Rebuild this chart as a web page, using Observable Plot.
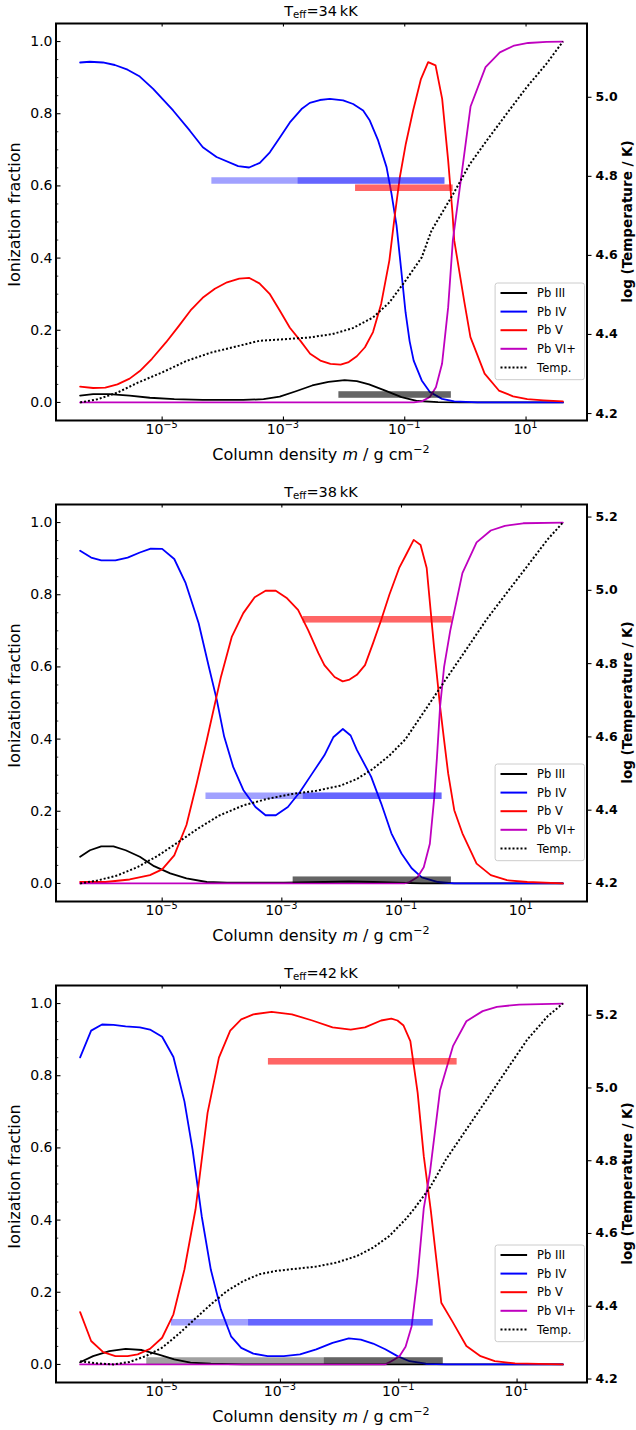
<!DOCTYPE html>
<html><head><meta charset="utf-8">
<script src="https://cdn.jsdelivr.net/npm/d3@7"></script>
<script src="https://cdn.jsdelivr.net/npm/@observablehq/plot@0.6"></script>
<style>
html,body{margin:0;padding:0;background:#fff;}
#root{position:relative;width:636px;height:1430px;overflow:hidden;}
.layer{position:absolute;left:0;width:636px;}
</style></head><body><div id="root"></div>
<script>
// ---------------- data (log10 column density, value) ----------------
const ionNames = ["Pb III", "Pb IV", "Pb V", "Pb VI+"];
const ionColors = ["#000000", "#0000ff", "#ff0000", "#bf00bf"];
const teffLabels = [34, 38, 42];
const xTickExps = [-5, -3, -1, 1];
const fracTicks = [0, 0.2, 0.4, 0.6, 0.8, 1.0];
const fracMinorTicks = [0.05,0.1,0.15,0.25,0.3,0.35,0.45,0.5,0.55,0.65,0.7,0.75,0.85,0.9,0.95];

// Teff = 34 kK
const p34_PbIII = [[-6.352,0.019],[-6.138,0.023],[-5.871,0.023],[-5.536,0.019],[-5.203,0.013],[-4.8,0.009],[-4.332,0.007],[-3.663,0.007],[-3.328,0.009],[-3.061,0.016],[-2.794,0.031],[-2.525,0.047],[-2.258,0.057],[-1.991,0.062],[-1.79,0.059],[-1.589,0.05],[-1.321,0.033],[-1.054,0.015],[-0.787,0.004],[-0.452,0.001],[-0.09,0],[1.607,0]];
const p34_PbIV = [[-6.352,0.942],[-6.192,0.944],[-5.978,0.942],[-5.78,0.935],[-5.57,0.922],[-5.368,0.903],[-5.148,0.869],[-4.819,0.809],[-4.543,0.753],[-4.329,0.707],[-4.103,0.68],[-3.747,0.655],[-3.566,0.651],[-3.389,0.664],[-3.224,0.693],[-3.059,0.734],[-2.894,0.776],[-2.702,0.813],[-2.565,0.83],[-2.4,0.838],[-2.235,0.841],[-2.016,0.837],[-1.851,0.827],[-1.686,0.809],[-1.576,0.781],[-1.439,0.726],[-1.3,0.652],[-1.218,0.578],[-1.135,0.49],[-1.06,0.37],[-0.987,0.25],[-0.92,0.17],[-0.853,0.116],[-0.72,0.061],[-0.586,0.029],[-0.385,0.01],[-0.184,0.003],[0.2,0],[1.607,0]];
const p34_PbV = [[-6.352,0.044],[-6.138,0.040],[-5.937,0.041],[-5.737,0.05],[-5.536,0.066],[-5.368,0.087],[-5.168,0.121],[-4.934,0.167],[-4.733,0.21],[-4.532,0.255],[-4.332,0.29],[-4.131,0.315],[-3.93,0.333],[-3.729,0.343],[-3.562,0.345],[-3.396,0.33],[-3.228,0.301],[-3.061,0.255],[-2.894,0.207],[-2.726,0.172],[-2.56,0.135],[-2.392,0.116],[-2.225,0.107],[-2.057,0.105],[-1.923,0.112],[-1.79,0.128],[-1.656,0.153],[-1.523,0.195],[-1.389,0.273],[-1.254,0.393],[-1.163,0.52],[-1.081,0.624],[-0.982,0.717],[-0.862,0.809],[-0.735,0.895],[-0.614,0.943],[-0.492,0.934],[-0.383,0.841],[-0.284,0.67],[-0.212,0.523],[-0.184,0.449],[-0.017,0.278],[0.083,0.181],[0.317,0.08],[0.552,0.033],[0.786,0.017],[1.02,0.009],[1.287,0.006],[1.607,0.003]];
const p34_PbVI = [[-6.352,0],[-0.85,0],[-0.72,0.003],[-0.586,0.015],[-0.486,0.042],[-0.385,0.107],[-0.284,0.264],[-0.207,0.449],[0.085,0.82],[0.332,0.929],[0.568,0.97],[0.804,0.989],[1.035,0.996],[1.338,0.999],[1.607,1.0]];
const p34_Temp = [[-6.352,4.228],[-6.07,4.236],[-5.737,4.253],[-5.402,4.278],[-5.0,4.304],[-4.599,4.333],[-4.197,4.354],[-3.796,4.369],[-3.396,4.384],[-2.993,4.388],[-2.593,4.392],[-2.19,4.401],[-1.857,4.416],[-1.523,4.443],[-1.254,4.481],[-0.987,4.536],[-0.72,4.595],[-0.558,4.663],[-0.202,4.755],[0.073,4.831],[0.349,4.89],[0.679,4.958],[1.008,5.025],[1.338,5.085],[1.607,5.141]];
const p34_bars = [["Pb IV",-4.18,-0.337,0.615],["Pb IV",-2.758,-0.337,0.615],["Pb V",-1.811,-0.202,0.595],["Pb V",-1.811,-0.202,0.595],["Pb III",-2.085,-0.232,0.022],["Pb III",-2.085,-0.232,0.022]];
const p34_tTicks = [4.2, 4.4, 4.6, 4.8, 5.0];

// Teff = 38 kK
const p38_PbIII = [[-6.371,0.074],[-6.207,0.092],[-6.018,0.103],[-5.814,0.103],[-5.61,0.092],[-5.373,0.074],[-5.135,0.048],[-4.865,0.028],[-4.594,0.014],[-4.255,0.004],[-3.915,0.002],[-2.966,0.002],[-2.289,0.004],[-1.881,0.006],[-1.475,0.004],[-1.067,0.002],[-0.661,0],[1.697,0]];
const p38_PbIV = [[-6.371,0.922],[-6.187,0.903],[-6.018,0.895],[-5.781,0.895],[-5.577,0.903],[-5.373,0.917],[-5.191,0.928],[-5.0,0.927],[-4.798,0.899],[-4.607,0.832],[-4.39,0.721],[-4.221,0.601],[-4.086,0.508],[-3.964,0.407],[-3.813,0.323],[-3.644,0.259],[-3.441,0.212],[-3.272,0.189],[-3.101,0.189],[-2.899,0.212],[-2.695,0.254],[-2.491,0.305],[-2.289,0.355],[-2.14,0.405],[-1.98,0.428],[-1.85,0.41],[-1.746,0.37],[-1.508,0.296],[-1.34,0.222],[-1.169,0.139],[-1.0,0.083],[-0.83,0.042],[-0.661,0.017],[-0.39,0.004],[-0.118,0],[1.697,0]];
const p38_PbV = [[-6.371,0.004],[-5.949,0.004],[-5.543,0.011],[-5.204,0.023],[-5.0,0.039],[-4.798,0.078],[-4.594,0.162],[-4.423,0.277],[-4.255,0.397],[-4.017,0.573],[-3.835,0.684],[-3.644,0.749],[-3.454,0.793],[-3.272,0.811],[-3.101,0.811],[-2.912,0.79],[-2.729,0.758],[-2.56,0.702],[-2.389,0.638],[-2.289,0.605],[-2.118,0.572],[-1.983,0.56],[-1.868,0.565],[-1.746,0.578],[-1.61,0.605],[-1.475,0.666],[-1.34,0.73],[-1.203,0.8],[-1.034,0.876],[-0.932,0.908],[-0.796,0.952],[-0.681,0.938],[-0.579,0.874],[-0.457,0.656],[-0.355,0.49],[-0.288,0.397],[-0.22,0.305],[-0.118,0.203],[0.018,0.139],[0.255,0.055],[0.492,0.023],[0.763,0.009],[1.102,0.004],[1.697,0]];
const p38_PbVI = [[-6.371,0],[-0.95,0],[-0.865,0.004],[-0.73,0.018],[-0.628,0.045],[-0.526,0.11],[-0.457,0.23],[-0.407,0.35],[-0.355,0.49],[-0.288,0.6],[-0.186,0.7],[0.018,0.86],[0.255,0.945],[0.492,0.978],[0.728,0.991],[1.034,0.998],[1.697,1.0]];
const p38_Temp = [[-6.371,4.2],[-6.085,4.208],[-5.747,4.222],[-5.408,4.245],[-5.069,4.276],[-4.729,4.313],[-4.39,4.351],[-4.051,4.385],[-3.644,4.413],[-3.238,4.431],[-2.831,4.444],[-2.424,4.453],[-2.017,4.467],[-1.746,4.485],[-1.475,4.513],[-1.203,4.549],[-0.932,4.594],[-0.593,4.676],[-0.255,4.758],[0.084,4.839],[0.424,4.921],[0.763,4.994],[1.102,5.066],[1.442,5.139],[1.697,5.185]];
const p38_bars = [["Pb V",-2.642,-0.153,0.732],["Pb V",-2.642,-0.153,0.732],["Pb IV",-4.268,-0.322,0.243],["Pb IV",-2.642,-0.322,0.243],["Pb III",-2.81,-0.166,0.01],["Pb III",-2.81,-0.166,0.01]];
const p38_tTicks = [4.2, 4.4, 4.6, 4.8, 5.0, 5.2];

// Teff = 42 kK
const p42_PbIII = [[-6.386,0.006],[-6.167,0.023],[-5.893,0.037],[-5.617,0.043],[-5.343,0.04],[-5.069,0.028],[-4.795,0.014],[-4.52,0.005],[-4.177,0.002],[-3.629,0],[1.774,0]];
const p42_PbIV = [[-6.386,0.851],[-6.2,0.925],[-6.016,0.942],[-5.823,0.941],[-5.617,0.937],[-5.377,0.934],[-5.206,0.928],[-5.0,0.908],[-4.809,0.852],[-4.623,0.729],[-4.486,0.596],[-4.33,0.41],[-4.177,0.263],[-4.006,0.152],[-3.835,0.078],[-3.663,0.046],[-3.458,0.03],[-3.218,0.023],[-2.943,0.023],[-2.669,0.028],[-2.395,0.042],[-2.119,0.06],[-1.845,0.072],[-1.641,0.069],[-1.435,0.058],[-1.228,0.042],[-1.022,0.023],[-0.817,0.009],[-0.542,0.002],[-0.2,0],[1.774,0]];
const p42_PbV = [[-6.386,0.145],[-6.2,0.065],[-5.996,0.034],[-5.79,0.023],[-5.583,0.023],[-5.413,0.028],[-5.206,0.043],[-5.0,0.074],[-4.809,0.139],[-4.623,0.263],[-4.435,0.43],[-4.232,0.697],[-4.04,0.85],[-3.849,0.925],[-3.663,0.956],[-3.458,0.97],[-3.149,0.977],[-2.806,0.97],[-2.462,0.953],[-2.119,0.934],[-1.812,0.928],[-1.571,0.934],[-1.298,0.953],[-1.125,0.958],[-1.022,0.953],[-0.919,0.939],[-0.804,0.896],[-0.681,0.753],[-0.577,0.577],[-0.457,0.425],[-0.371,0.3],[-0.281,0.171],[-0.097,0.12],[0.143,0.051],[0.383,0.023],[0.623,0.009],[0.966,0.003],[1.774,0]];
const p42_PbVI = [[-6.386,0],[-1.235,0],[-1.125,0.009],[-0.988,0.023],[-0.885,0.049],[-0.782,0.106],[-0.681,0.245],[-0.577,0.433],[-0.474,0.531],[-0.302,0.76],[-0.084,0.882],[0.143,0.951],[0.418,0.979],[0.659,0.991],[1.036,0.997],[1.774,1.0]];
const p42_Temp = [[-6.386,4.249],[-6.097,4.243],[-5.823,4.24],[-5.549,4.247],[-5.276,4.263],[-5.0,4.286],[-4.726,4.323],[-4.452,4.364],[-4.177,4.405],[-3.903,4.442],[-3.629,4.469],[-3.355,4.488],[-3.08,4.497],[-2.738,4.503],[-2.395,4.509],[-2.052,4.52],[-1.708,4.538],[-1.435,4.561],[-1.159,4.593],[-0.885,4.639],[-0.748,4.666],[-0.474,4.726],[-0.2,4.804],[0.143,4.886],[0.486,4.968],[0.829,5.051],[1.172,5.133],[1.516,5.197],[1.774,5.232]];
const p42_bars = [["Pb V",-3.203,-0.014,0.84],["Pb V",-3.203,-0.014,0.84],["Pb IV",-4.843,-0.418,0.117],["Pb IV",-3.539,-0.418,0.117],["Pb III",-5.26,-0.248,0.011],["Pb III",-2.258,-0.248,0.011]];
const p42_tTicks = [4.2, 4.4, 4.6, 4.8, 5.0, 5.2];

// ---------------- layout ----------------
const FONT = '"DejaVu Sans", sans-serif';
const W = 636, ML = 55.5, MR = 49.5, MT = 23, PH = 397, PW = W - ML - MR;
const panelTops = [0, 481, 962];
const panelBottomMargins = [57, 57, 48];

const panels = [
  {teff: teffLabels[0], curves: [p34_PbIII, p34_PbIV, p34_PbV, p34_PbVI], temp: p34_Temp, bars: p34_bars, tTicks: p34_tTicks},
  {teff: teffLabels[1], curves: [p38_PbIII, p38_PbIV, p38_PbV, p38_PbVI], temp: p38_Temp, bars: p38_bars, tTicks: p38_tTicks},
  {teff: teffLabels[2], curves: [p42_PbIII, p42_PbIV, p42_PbV, p42_PbVI], temp: p42_Temp, bars: p42_bars, tTicks: p42_tTicks}
];

const root = document.getElementById("root");

function addPanel(idx) {
  const p = panels[idx];
  const top = panelTops[idx], MB = panelBottomMargins[idx], H = MT + PH + MB;
  const allLog = p.curves.flat().map(d => d[0]).concat(p.temp.map(d => d[0]));
  const [lo, hi] = d3.extent(allLog);
  const pad = (hi - lo) * 0.05;
  const xDomain = [10 ** (lo - pad), 10 ** (hi + pad)];
  const curveRows = p.curves.map((c, i) => c.map(([lm, v]) => ({ion: ionNames[i], m: 10 ** lm, v})));
  const barRows = p.bars.map(([ion, a, b, lev]) => ({ion, m1: 10 ** a, m2: 10 ** b, lev}));
  const tempRows = p.temp.map(([lm, t]) => ({m: 10 ** lm, t}));
  const xTickVals = xTickExps.map(e => 10 ** e);
  const common = {
    width: W, height: H, marginLeft: ML, marginRight: MR, marginTop: MT, marginBottom: MB,
    style: {fontFamily: FONT, background: "transparent", overflow: "visible", color: "black"}
  };

  const a = Plot.plot({
    ...common,
    x: {type: "log", domain: xDomain, axis: null},
    y: {domain: [-0.05, 1.05], axis: null},
    color: {domain: ionNames, range: ionColors},
    marks: [
      ...curveRows.map(rows => Plot.line(rows, {x: "m", y: "v", stroke: "ion", strokeWidth: 1.8})),
      Plot.ruleY(barRows, {x1: "m1", x2: "m2", y: "lev", stroke: "ion", strokeWidth: 6.5, strokeOpacity: 0.37}),
      Plot.ruleY(fracMinorTicks, {insetRight: PW - 2.8, stroke: "black", strokeWidth: 0.8}),
      Plot.ruleY(fracTicks, {insetRight: PW - 5, stroke: "black", strokeWidth: 1.1}),
      Plot.ruleX(xTickVals, {insetTop: PH - 3.5, stroke: "black", strokeWidth: 1.1}),
      Plot.ruleX(xTickVals, {insetBottom: PH - 3.5, stroke: "black", strokeWidth: 1.1}),
      Plot.text(fracTicks, {y: d => d, text: d => d.toFixed(1), frameAnchor: "left", textAnchor: "end", dx: -3.5, fontSize: 14, fill: "black"}),
      Plot.frame({stroke: "black", strokeWidth: 2})
    ]
  });

  const [tlo, thi] = d3.extent(p.temp, d => d[1]);
  const tpad = (thi - tlo) * 0.05;
  const b = Plot.plot({
    ...common,
    x: {type: "log", domain: xDomain, axis: null},
    y: {domain: [tlo - tpad, thi + tpad], axis: null},
    marks: [
      Plot.line(tempRows, {x: "m", y: "t", stroke: "black", strokeWidth: 2, strokeDasharray: "2,2", strokeLinecap: "butt", strokeLinejoin: "miter"}),
      Plot.ruleY(p.tTicks, {insetLeft: PW, insetRight: -5, stroke: "black", strokeWidth: 1.1}),
      Plot.text(p.tTicks, {y: d => d, text: d => d.toFixed(1), frameAnchor: "right", textAnchor: "start", dx: 8.5, fontSize: 12.5, fontWeight: "bold", fill: "black"})
    ]
  });

  const divA = document.createElement("div");
  divA.className = "layer"; divA.style.top = top + "px"; divA.appendChild(a);
  const divB = document.createElement("div");
  divB.className = "layer"; divB.style.top = top + "px"; divB.appendChild(b);
  root.appendChild(divA); root.appendChild(divB);

  const sA = d3.select(a);
  const sx = a.scale("x");
  const cx = ML + PW / 2, cy = MT + PH / 2;

  // title
  const title = sA.append("text").attr("x", cx).attr("y", MT - 7.5)
    .attr("text-anchor", "middle").attr("font-size", 14.5).attr("fill", "black");
  title.append("tspan").text("T");
  title.append("tspan").attr("font-size", 10.2).attr("dy", 2.5).text("eff");
  title.append("tspan").attr("dy", -2.5).text("=" + p.teff + "\u2009kK");

  // x tick labels
  xTickExps.forEach(e => {
    const t = sA.append("text").attr("x", sx.apply(10 ** e)).attr("y", MT + PH + 13.5)
      .attr("text-anchor", "middle").attr("font-size", 14).attr("fill", "black");
    t.append("tspan").text("10");
    t.append("tspan").attr("font-size", 9.8).attr("dy", -5.5).text(e < 0 ? "\u2212" + (-e) : String(e));
  });

  // x label
  const xl = sA.append("text").attr("x", cx).attr("y", MT + PH + 39.7)
    .attr("text-anchor", "middle").attr("font-size", 16).attr("fill", "black");
  xl.append("tspan").text("Column density ");
  xl.append("tspan").attr("font-style", "italic").text("m");
  xl.append("tspan").text(" / g cm");
  xl.append("tspan").attr("font-size", 11.2).attr("dy", -6.5).text("\u22122");

  // y labels
  sA.append("text").attr("transform", `translate(20,${cy - 7}) rotate(-90)`)
    .attr("text-anchor", "middle").attr("font-size", 16).attr("fill", "black").text("Ionization fraction");
  sA.append("text").attr("transform", `translate(632,${cy}) rotate(-90)`)
    .attr("text-anchor", "middle").attr("font-size", 13.5).attr("font-weight", "bold").attr("fill", "black")
    .text("log (Temperature / K)");

  // legend (in the overlay)
  const sB = d3.select(b);
  const bw = 89.4, bh = 96.7;
  const bx = ML + PW - 2 - bw, by = MT + PH - 40.3 - bh;
  const lg = sB.append("g").attr("text-anchor", "start");
  lg.append("rect").attr("x", bx).attr("y", by).attr("width", bw).attr("height", bh).attr("rx", 2.5)
    .attr("fill", "white").attr("fill-opacity", 0.8).attr("stroke", "#cccccc").attr("stroke-width", 1);
  const entries = ionNames.map((n, i) => ({name: n, color: ionColors[i], dash: null})).concat([{name: "Temp.", color: "black", dash: "2,2"}]);
  entries.forEach((en, i) => {
    const yy = by + 10 + i * 18.6;
    const ln = lg.append("line").attr("x1", bx + 5.4).attr("x2", bx + 32).attr("y1", yy).attr("y2", yy)
      .attr("stroke", en.color).attr("stroke-width", 2);
    if (en.dash) ln.attr("stroke-dasharray", en.dash);
    lg.append("text").attr("x", bx + 42).attr("y", yy).attr("dy", "0.36em").attr("text-anchor", "start")
      .attr("font-size", 11.5).attr("fill", "black").text(en.name);
  });
}

panels.forEach((_, i) => addPanel(i));
</script></body></html>
